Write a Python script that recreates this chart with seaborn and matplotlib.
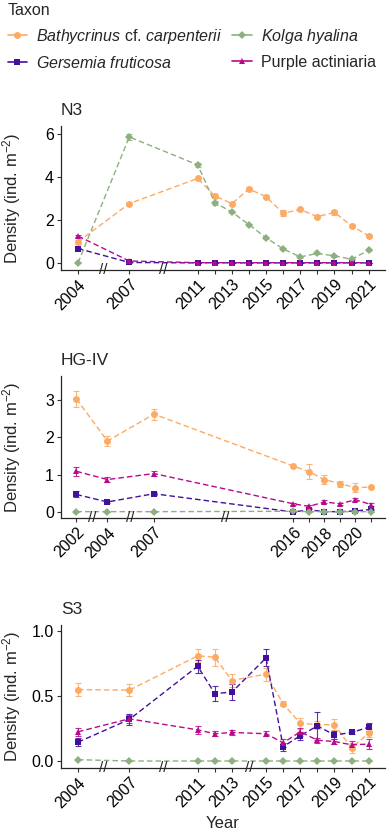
import numpy as np
import pandas as pd
import seaborn as sns
import matplotlib.pyplot as plt
import matplotlib.transforms as mtransforms
from matplotlib.lines import Line2D

sns.set_style("ticks")
plt.rcParams['font.family'] = ['Liberation Sans', 'DejaVu Sans']
plt.rcParams['mathtext.fontset'] = 'custom'
plt.rcParams['mathtext.rm'] = 'Liberation Sans'
plt.rcParams['mathtext.it'] = 'Liberation Sans:italic'

taxa = ["Bathycrinus", "Gersemia", "Kolga", "Purple"]
labels = [r"$\it{Bathycrinus}$ cf. $\it{carpenterii}$", r"$\it{Gersemia\ fruticosa}$",
          r"$\it{Kolga\ hyalina}$", "Purple actiniaria"]
colors = {"Bathycrinus": "#FDAA63", "Gersemia": "#42109C", "Kolga": "#8DB07F", "Purple": "#B8098C"}
markers = {"Bathycrinus": "o", "Gersemia": "s", "Kolga": "D", "Purple": "^"}

# N3
n3_years = [2004, 2007, 2011, 2012, 2013, 2014, 2015, 2016, 2017, 2018, 2019, 2020, 2021]
n3_bath = [0.98, 2.76, 3.93, 3.12, 2.76, 3.44, 3.08, 2.31, 2.49, 2.15, 2.35, 1.73, 1.26]
n3_bath_se = [0.08, 0.06, 0.08, 0.08, 0.08, 0.1, 0.08, 0.15, 0.08, 0.06, 0.12, 0.06, 0.06]
n3_gers = [0.67, 0.02, 0.0, 0.01, 0.0, 0.0, 0.0, 0.0, 0.0, 0.0, 0.0, 0.0, 0.0]
n3_gers_se = [0.04, 0.01, 0.0, 0.0, 0.0, 0.0, 0.0, 0.0, 0.0, 0.0, 0.0, 0.0, 0.0]
n3_kolga = [0.0, 5.86, 4.56, 2.8, 2.37, 1.78, 1.17, 0.65, 0.28, 0.44, 0.33, 0.17, 0.59]
n3_kolga_se = [0.0, 0.15, 0.1, 0.1, 0.05, 0.05, 0.05, 0.04, 0.04, 0.04, 0.04, 0.03, 0.04]
n3_purp = [1.25, 0.09, 0.01, 0.01, 0.01, 0.01, 0.01, 0.01, 0.01, 0.01, 0.01, 0.01, 0.01]
n3_purp_se = [0.05, 0.02, 0.0, 0.0, 0.0, 0.0, 0.0, 0.0, 0.0, 0.0, 0.0, 0.0, 0.0]

# HG-IV
hg_years = [2002, 2004, 2007, 2016, 2017, 2018, 2019, 2020, 2021]
hg_bath = [3.03, 1.90, 2.62, 1.23, 1.08, 0.87, 0.76, 0.65, 0.67]
hg_bath_se = [0.21, 0.13, 0.15, 0.03, 0.2, 0.13, 0.08, 0.12, 0.03]
hg_gers = [0.47, 0.27, 0.49, 0.0, 0.06, 0.01, 0.01, 0.03, 0.07]
hg_gers_se = [0.08, 0.03, 0.04, 0.01, 0.02, 0.01, 0.01, 0.01, 0.02]
hg_kolga = [0.01, 0.01, 0.01, 0.02, 0.01, 0.01, 0.01, 0.01, 0.01]
hg_kolga_se = [0.0, 0.0, 0.0, 0.0, 0.0, 0.0, 0.0, 0.0, 0.0]
hg_purp = [1.09, 0.87, 1.03, 0.22, 0.15, 0.27, 0.22, 0.33, 0.2]
hg_purp_se = [0.12, 0.06, 0.06, 0.03, 0.03, 0.04, 0.03, 0.04, 0.03]

# S3
s3_years = [2004, 2007, 2011, 2012, 2013, 2015, 2016, 2017, 2018, 2019, 2020, 2021]
s3_bath = [0.55, 0.546, 0.81, 0.80, 0.62, 0.67, 0.44, 0.29, 0.28, 0.28, 0.10, 0.215]
s3_bath_se = [0.05, 0.045, 0.05, 0.065, 0.05, 0.05, 0.02, 0.04, 0.03, 0.04, 0.04, 0.03]
s3_gers = [0.145, 0.32, 0.73, 0.52, 0.53, 0.795, 0.11, 0.195, 0.27, 0.2, 0.22, 0.26]
s3_gers_se = [0.03, 0.04, 0.05, 0.06, 0.06, 0.065, 0.03, 0.03, 0.11, 0.03, 0.01, 0.03]
s3_kolga = [0.01, 0.0, 0.0, 0.0, 0.0, 0.0, 0.0, 0.0, 0.0, 0.0, 0.0, 0.0]
s3_kolga_se = [0.0] * 12
s3_purp = [0.225, 0.325, 0.24, 0.21, 0.22, 0.21, 0.14, 0.225, 0.16, 0.15, 0.125, 0.13]
s3_purp_se = [0.03, 0.03, 0.03, 0.02, 0.02, 0.02, 0.03, 0.03, 0.02, 0.02, 0.03, 0.04]

sites = [
    dict(name="N3", years=n3_years, vals=[n3_bath, n3_gers, n3_kolga, n3_purp],
         se=[n3_bath_se, n3_gers_se, n3_kolga_se, n3_purp_se],
         xlim=(2003, 2021.95), ylim=(-0.33, 6.37), yticks=[0, 2, 4, 6], ylab=["0", "2", "4", "6"],
         xlab=[2004, 2007, 2011, 2013, 2015, 2017, 2019, 2021], breaks=[2005.5, 2009]),
    dict(name="HG-IV", years=hg_years, vals=[hg_bath, hg_gers, hg_kolga, hg_purp],
         se=[hg_bath_se, hg_gers_se, hg_kolga_se, hg_purp_se],
         xlim=(2001, 2021.9), ylim=(-0.16, 3.64), yticks=[0, 1, 2, 3], ylab=["0", "1", "2", "3"],
         xlab=[2002, 2004, 2007, 2016, 2018, 2020], breaks=[2003, 2005.5, 2011.6]),
    dict(name="S3", years=s3_years, vals=[s3_bath, s3_gers, s3_kolga, s3_purp],
         se=[s3_bath_se, s3_gers_se, s3_kolga_se, s3_purp_se],
         xlim=(2003, 2021.95), ylim=(-0.054, 1.046), yticks=[0, 0.5, 1.0], ylab=["0.0", "0.5", "1.0"],
         xlab=[2004, 2007, 2011, 2013, 2015, 2017, 2019, 2021], breaks=[2005.5, 2009, 2014]),
]

fig = plt.figure(figsize=(3.88, 8.30), dpi=100)
bottoms = [0.6747, 0.3759, 0.0747]
heights = [0.1735, 0.171, 0.172]

for site, b, h in zip(sites, bottoms, heights):
    ax = fig.add_axes([0.157, b, 0.835, h])
    rows = []
    for t, v, e in zip(taxa, site["vals"], site["se"]):
        for yr, vv, ee in zip(site["years"], v, e):
            rows.append((yr, t, vv, ee))
    df = pd.DataFrame(rows, columns=["year", "taxon", "density", "se"])

    for t in taxa:
        sub = df[df.taxon == t]
        ax.errorbar(sub.year, sub.density, yerr=sub.se, fmt="none", ecolor=colors[t],
                    elinewidth=0.8, capsize=2.2, capthick=0.8, alpha=0.85)
    sns.lineplot(data=df, x="year", y="density", hue="taxon", style="taxon",
                 hue_order=taxa, style_order=taxa, palette=colors, markers=markers,
                 dashes={t: (4, 2.2) for t in taxa}, markersize=5, markeredgewidth=0,
                 linewidth=1.0, legend=False, ax=ax)
    for ln in ax.lines:
        if ln.get_marker() == "D":
            ln.set_markersize(4.2)

    ax.set_xlim(*site["xlim"])
    ax.set_ylim(*site["ylim"])
    ax.set_yticks(site["yticks"])
    ax.set_yticklabels(site["ylab"], fontsize=11.5)
    ax.set_xticks(site["years"])
    ax.set_xticklabels([str(y) if y in site["xlab"] else "" for y in site["years"]],
                       rotation=45, ha="right", rotation_mode="anchor", fontsize=11.5)
    ax.tick_params(length=3, width=0.8, colors="#333333", labelcolor="black", pad=2)
    for s in ["top", "right"]:
        ax.spines[s].set_visible(False)
    ax.spines["left"].set_linewidth(0.9)
    ax.spines["bottom"].set_linewidth(0.9)
    ax.set_title(site["name"], loc="left", fontsize=12.5, pad=8, x=0.0)
    ax.set_ylabel(r"Density (ind. m$^{-2}$)", fontsize=12)
    ax.yaxis.set_label_coords(-0.117, 0.5)
    ax.set_xlabel("")
    trans = mtransforms.blended_transform_factory(ax.transData, ax.transAxes)
    for bx in site["breaks"]:
        ax.text(bx, 0.0, "//", transform=trans, ha="center", va="center",
                fontsize=11, clip_on=False)
    last_ax = ax

last_ax.set_xlabel("Year", fontsize=12)
last_ax.xaxis.set_label_coords(0.5, -0.335)

handles = [Line2D([], [], color=colors[t], marker=markers[t],
                  markersize=4.2 if markers[t] == "D" else 5,
                  markeredgewidth=0, linewidth=1.2) for t in taxa]
leg = fig.legend(handles, labels, title="Taxon",
                 ncol=2, loc="upper left", bbox_to_anchor=(-0.005, 1.008), frameon=False,
                 fontsize=11.5, title_fontsize=11.5, handlelength=1.2, handletextpad=0.6,
                 columnspacing=0.6, labelspacing=0.55, alignment="left", borderaxespad=0.2)

fig.savefig("out.png", dpi=100)
